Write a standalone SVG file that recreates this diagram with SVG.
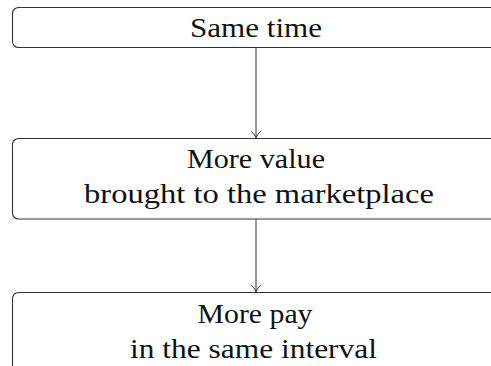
<svg xmlns="http://www.w3.org/2000/svg" width="491" height="366" viewBox="0 0 491 366">
  <style>
    .box { fill: #ffffff; stroke: #333333; stroke-width: 1.1; }
    .lbl { font-family: "Liberation Serif", "DejaVu Serif", serif; font-size: 27px; fill: #111111; text-anchor: middle; }
    .edge { fill: none; stroke: #333333; stroke-width: 1; }
    .head { fill: none; stroke: #333333; stroke-width: 1; stroke-linecap: round; stroke-linejoin: round; }
  </style>
  <rect width="491" height="366" fill="#ffffff"/>

  <g id="connectors">
    <line class="edge" x1="256" y1="47.5" x2="256" y2="137.8"/>
    <path class="head" d="M251.5,131.5 Q254.5,134 256,137.8 Q257.5,134 260.5,131.5"/>
    <line class="edge" x1="256" y1="219" x2="256" y2="291.8"/>
    <path class="head" d="M251.5,285.5 Q254.5,288 256,291.8 Q257.5,288 260.5,285.5"/>
  </g>

  <g id="same-time">
    <rect class="box" x="12.5" y="7.5" width="490" height="40" rx="6" ry="6"/>
    <text class="lbl" x="256" y="36.7" textLength="132" lengthAdjust="spacingAndGlyphs">Same time</text>
  </g>

  <g id="more-value">
    <rect class="box" x="12.5" y="138.5" width="490" height="80.5" rx="6" ry="6"/>
    <text class="lbl" x="256" y="167.5" textLength="138" lengthAdjust="spacingAndGlyphs">More value</text>
    <text class="lbl" x="259" y="203.3" textLength="350" lengthAdjust="spacingAndGlyphs">brought to the marketplace</text>
  </g>

  <g id="more-pay">
    <rect class="box" x="12.5" y="292.5" width="490" height="80.5" rx="6" ry="6"/>
    <text class="lbl" x="255" y="322.5" textLength="115" lengthAdjust="spacingAndGlyphs">More pay</text>
    <text class="lbl" x="253.5" y="358.3" textLength="247" lengthAdjust="spacingAndGlyphs">in the same interval</text>
  </g>
</svg>
